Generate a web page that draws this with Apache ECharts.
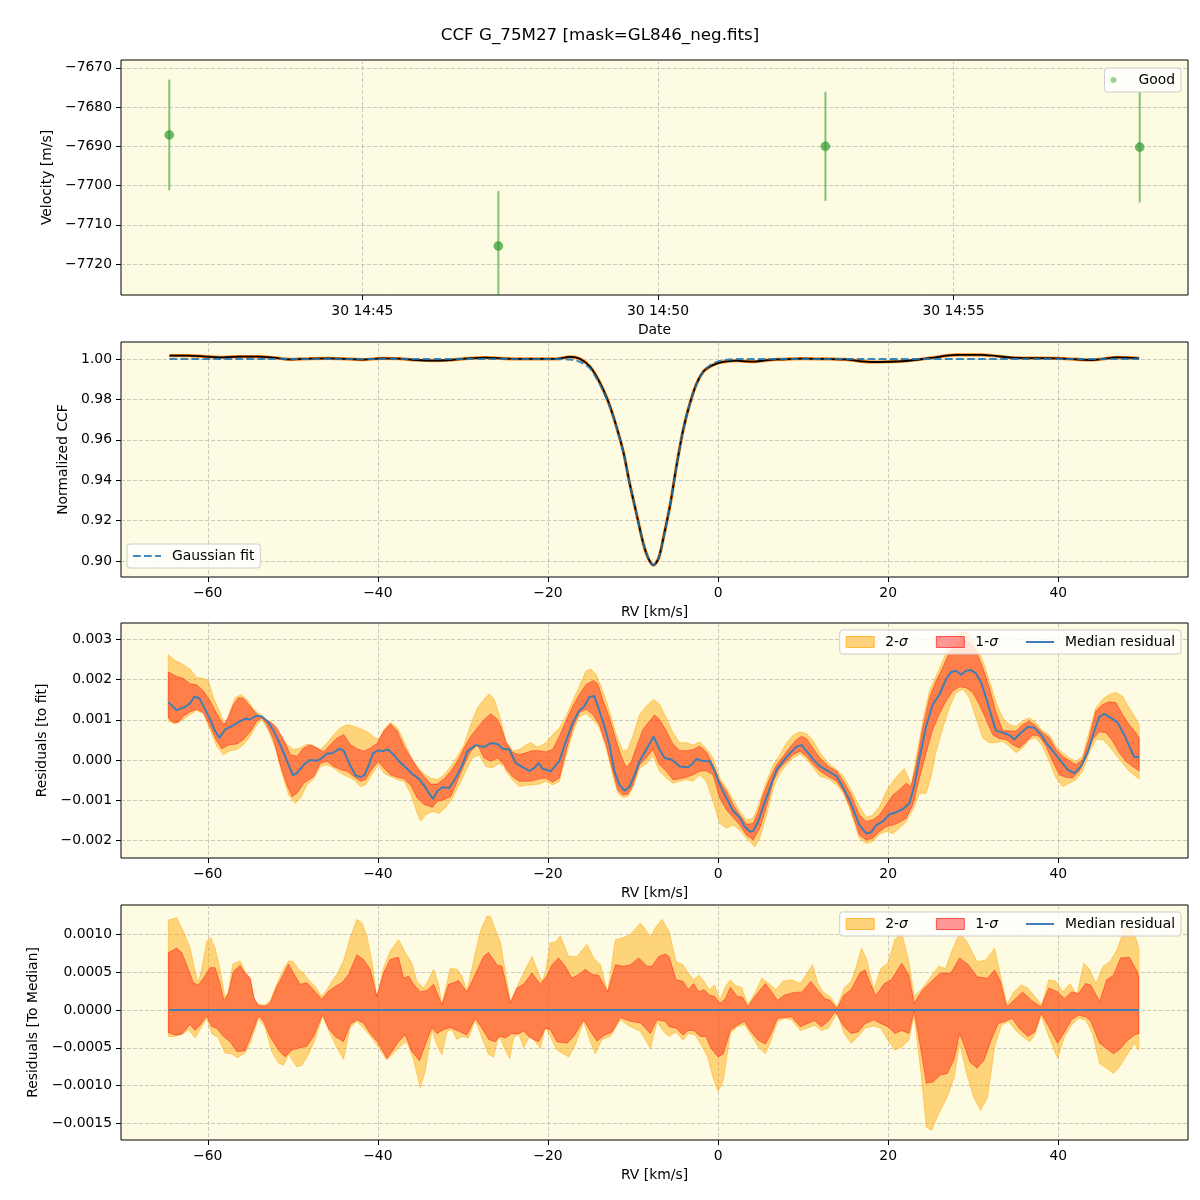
<!DOCTYPE html>
<html>
<head>
<meta charset="utf-8">
<script src="https://cdn.jsdelivr.net/npm/echarts@6.0.0/dist/echarts.min.js"></script>
<style>
  html, body { margin: 0; padding: 0; background: #fff; }
  #main { width: 1200px; height: 1200px; }
</style>
</head>
<body>
<div id="main"></div>
<script>
// ---- panel 1: velocity vs time ----
const obsTimes = ['14:41:44', '14:47:18', '14:52:50', '14:58:09'];
const obsVel = [-7687.1, -7715.4, -7690.0, -7690.2];
const obsErr = [14.1, 14.0, 13.9, 14.1];
const dateTicks = ['14:45:00', '14:50:00', '14:55:00'];
const velTicks = [-7720, -7710, -7700, -7690, -7680, -7670];

// ---- panel 2: CCF (rv km/s, normalized flux) ----
const ccf = [[-64.5,1.0017],[-62.3,1.0017],[-60.2,1.0012],[-58.1,1.0008],[-56.1,1.0012],[-54.0,1.0012],[-52.0,1.0005],[-50.3,0.9998],[-47.9,1.0002],[-45.8,1.0003],[-43.7,1.0],[-41.7,0.9997],[-39.6,1.0003],[-37.6,1.0002],[-35.5,0.9995],[-33.5,0.9992],[-31.4,0.9995],[-29.3,1.0003],[-27.3,1.0007],[-25.2,1.0002],[-23.2,1.0],[-21.1,1.0],[-19.1,1.0],[-17.4,1.001],[-16.2,1.0],[-15.1,0.9964],[-14.3,0.9914],[-13.5,0.9848],[-12.7,0.9765],[-11.9,0.9658],[-11.1,0.9534],[-10.4,0.9385],[-9.6,0.9236],[-8.8,0.9088],[-8.2,0.9013],[-7.6,0.898],[-7.0,0.9013],[-6.4,0.9121],[-5.6,0.9286],[-4.9,0.9468],[-4.1,0.965],[-3.3,0.9782],[-2.5,0.9881],[-1.7,0.9939],[-0.9,0.9964],[0.0,0.998],[1.0,0.9988],[2.2,0.9992],[3.4,0.9988],[4.2,0.9987],[5.3,0.9992],[6.5,0.9997],[7.3,0.9998],[10,1.0002],[13,1.0],[15,0.9998],[18,0.9985],[22,0.999],[25,1.0005],[28,1.002],[31,1.002],[35,1.0005],[40,1.0003],[44,0.9995],[47,1.0008],[49.5,1.0003]];
const gaussFit = [[-64.5,1.0],[-20,1.0],[-17.4,0.9997],[-16.2,0.9985],[-15.1,0.9955],[-14.3,0.9905],[-13.5,0.984],[-12.7,0.976],[-11.9,0.9655],[-11.1,0.953],[-10.4,0.9385],[-9.6,0.9236],[-8.8,0.9088],[-8.2,0.9013],[-7.6,0.898],[-7.0,0.9013],[-6.4,0.9121],[-5.6,0.9286],[-4.9,0.9468],[-4.1,0.965],[-3.3,0.9782],[-2.5,0.9878],[-1.7,0.9938],[-0.9,0.997],[0.0,0.9988],[1.0,0.9996],[2.2,1.0],[49.5,1.0]];
const ccfTicks = [0.90, 0.92, 0.94, 0.96, 0.98, 1.00];
const rvTicks = [-60, -40, -20, 0, 20, 40];

// ---- panel 3: residuals to fit (values in 1e-3) ----
const fitMed = [[-64.64,1.44],[-63.65,1.24],[-62.67,1.32],[-62.08,1.41],[-61.57,1.58],[-60.98,1.53],[-60.31,1.26],[-59.72,1.01],[-59.14,0.72],[-58.62,0.55],[-57.96,0.76],[-57.17,0.84],[-56.39,0.94],[-55.6,1.03],[-55.01,1.01],[-54.3,1.10],[-53.63,1.08],[-52.85,0.93],[-52.26,0.73],[-51.67,0.47],[-51.08,0.18],[-50.57,-0.08],[-49.98,-0.38],[-49.51,-0.33],[-48.72,-0.12],[-48.02,0.0],[-47.15,-0.02],[-46.56,0.05],[-45.97,0.16],[-45.38,0.17],[-44.48,0.28],[-44.01,0.23],[-43.3,-0.12],[-42.63,-0.38],[-42.04,-0.43],[-41.57,-0.37],[-41.06,-0.12],[-40.55,0.17],[-39.96,0.24],[-39.41,0.22],[-38.82,0.26],[-38.31,0.17],[-37.52,-0.03],[-36.74,-0.18],[-35.95,-0.35],[-35.17,-0.47],[-34.58,-0.63],[-33.99,-0.83],[-33.52,-0.97],[-33.01,-0.78],[-32.42,-0.68],[-31.63,-0.70],[-30.84,-0.45],[-30.06,-0.12],[-29.47,0.22],[-28.49,0.37],[-27.5,0.32],[-26.72,0.42],[-25.93,0.40],[-25.34,0.28],[-24.56,0.26],[-23.77,-0.08],[-22.99,-0.18],[-22.2,-0.27],[-21.61,-0.20],[-21.1,-0.08],[-20.63,-0.22],[-19.65,-0.28],[-18.66,-0.02],[-17.88,0.47],[-17.09,0.93],[-16.31,1.23],[-15.72,1.34],[-15.13,1.57],[-14.54,1.59],[-13.95,1.22],[-13.36,0.84],[-12.77,0.38],[-12.18,-0.28],[-11.59,-0.62],[-11.0,-0.77],[-10.41,-0.66],[-9.82,-0.37],[-9.23,-0.03],[-8.45,0.26],[-7.58,0.58],[-6.88,0.26],[-6.29,0.05],[-5.5,0.01],[-4.91,-0.08],[-4.52,-0.16],[-3.54,-0.18],[-3.03,-0.10],[-2.55,0.03],[-1.96,-0.02],[-0.98,-0.03],[-0.39,-0.28],[0.2,-0.62],[0.98,-0.95],[1.77,-1.27],[2.55,-1.43],[3.14,-1.66],[3.73,-1.78],[4.13,-1.77],[4.72,-1.53],[5.3,-1.16],[6.09,-0.70],[6.88,-0.24],[7.66,-0.03],[8.45,0.17],[9.23,0.33],[9.82,0.37],[10.41,0.22],[11.2,0.01],[11.98,-0.16],[12.97,-0.28],[13.95,-0.41],[14.73,-0.70],[15.52,-1.03],[16.62,-1.62],[17.42,-1.83],[18.0,-1.80],[18.59,-1.62],[19.37,-1.53],[20.16,-1.35],[20.94,-1.30],[21.72,-1.22],[22.5,-1.08],[23.09,-0.62],[23.68,0.05],[24.46,0.84],[25.24,1.38],[26.03,1.63],[26.81,2.01],[27.4,2.19],[27.98,2.22],[28.57,2.12],[29.16,2.22],[29.75,2.24],[30.33,2.15],[30.92,1.93],[31.51,1.55],[32.09,1.13],[32.68,0.73],[33.46,0.68],[34.25,0.62],[34.83,0.51],[35.62,0.68],[36.4,0.82],[37.18,0.80],[37.96,0.63],[38.75,0.38],[39.53,0.18],[40.31,-0.03],[41.1,-0.24],[41.88,-0.33],[42.66,-0.16],[43.44,0.18],[44.23,0.72],[44.81,1.07],[45.4,1.15],[46.18,1.05],[46.97,0.93],[47.75,0.63],[48.53,0.26],[48.92,0.08],[49.51,0.07]];
const fit1Hi = [[-64.64,2.19],[-63.65,2.08],[-62.87,2.03],[-62.08,1.90],[-61.3,1.87],[-60.51,1.72],[-59.72,1.47],[-58.94,1.15],[-58.15,0.88],[-57.56,1.07],[-56.97,1.38],[-56.39,1.55],[-55.8,1.53],[-55.01,1.34],[-54.22,1.13],[-53.44,1.03],[-52.65,0.95],[-51.87,0.80],[-51.08,0.51],[-50.29,0.13],[-49.51,0.09],[-48.72,0.30],[-47.94,0.38],[-47.15,0.30],[-46.37,0.20],[-45.58,0.38],[-44.79,0.55],[-44.01,0.63],[-43.22,0.38],[-42.44,0.28],[-41.65,0.22],[-40.86,0.30],[-40.08,0.41],[-39.29,0.72],[-38.51,0.90],[-37.72,0.72],[-36.94,0.34],[-36.15,0.07],[-35.36,-0.20],[-34.58,-0.41],[-33.79,-0.60],[-33.01,-0.60],[-32.22,-0.47],[-31.43,-0.28],[-30.65,-0.03],[-29.86,0.30],[-29.08,0.59],[-28.29,0.80],[-27.5,1.01],[-26.72,1.15],[-25.93,1.01],[-25.5,0.80],[-24.95,0.45],[-24.17,0.19],[-23.38,0.13],[-22.59,0.18],[-21.81,0.23],[-21.02,0.23],[-20.24,0.20],[-19.45,0.26],[-18.66,0.59],[-17.88,0.97],[-17.09,1.34],[-16.31,1.63],[-15.52,1.88],[-14.66,1.98],[-14.15,1.90],[-13.56,1.51],[-12.77,1.05],[-11.98,0.47],[-11.39,0.09],[-10.81,-0.18],[-10.22,-0.05],[-9.63,0.30],[-8.84,0.76],[-8.05,0.97],[-7.47,1.12],[-6.88,1.01],[-6.09,0.72],[-5.3,0.40],[-4.52,0.23],[-3.73,0.23],[-2.95,0.26],[-2.16,0.34],[-1.38,0.20],[-0.59,-0.12],[0.2,-0.53],[0.98,-0.78],[1.77,-1.12],[2.55,-1.37],[3.34,-1.60],[4.13,-1.58],[4.72,-1.28],[5.3,-0.87],[6.09,-0.45],[6.88,-0.12],[7.66,0.09],[8.45,0.32],[9.23,0.51],[9.82,0.59],[10.41,0.53],[11.2,0.28],[11.98,0.05],[12.97,-0.16],[13.95,-0.28],[14.73,-0.53],[15.52,-0.82],[16.62,-1.37],[17.42,-1.53],[18.2,-1.49],[18.98,-1.37],[19.77,-1.12],[20.55,-0.87],[21.33,-0.74],[22.11,-0.58],[22.7,-0.66],[23.29,-0.12],[24.07,0.80],[24.85,1.55],[25.64,1.97],[26.42,2.30],[27.2,2.68],[27.98,2.88],[28.77,3.01],[29.55,2.93],[30.33,2.72],[31.12,2.30],[31.9,1.80],[32.68,1.18],[33.46,0.73],[34.25,0.72],[35.03,0.72],[35.81,0.88],[36.59,0.97],[37.38,0.84],[38.16,0.68],[38.94,0.55],[39.73,0.26],[40.51,0.09],[41.29,-0.02],[42.07,-0.12],[42.86,0.01],[43.64,0.55],[44.42,1.22],[45.21,1.38],[45.99,1.45],[46.77,1.43],[47.55,1.13],[48.34,0.88],[49.12,0.68],[49.51,0.55]];
const fit1Lo = [[-64.64,1.05],[-64.05,0.93],[-63.46,0.94],[-62.87,1.09],[-62.08,1.20],[-61.3,1.26],[-60.51,1.18],[-59.72,0.84],[-58.94,0.47],[-58.35,0.28],[-57.56,0.37],[-56.58,0.40],[-55.8,0.51],[-55.01,0.70],[-54.22,0.97],[-53.63,1.05],[-53.05,0.88],[-52.26,0.51],[-51.47,-0.12],[-50.69,-0.62],[-50.1,-0.91],[-49.51,-0.83],[-48.72,-0.58],[-47.54,-0.41],[-46.76,-0.08],[-45.97,-0.03],[-45.19,-0.16],[-44.4,-0.24],[-43.61,-0.28],[-42.83,-0.41],[-42.04,-0.53],[-41.45,-0.49],[-40.86,-0.28],[-39.96,-0.03],[-39.29,-0.20],[-38.51,-0.37],[-37.72,-0.43],[-36.94,-0.47],[-36.15,-0.62],[-35.36,-0.95],[-34.58,-1.10],[-33.6,-1.18],[-33.01,-1.03],[-32.22,-0.99],[-31.43,-0.91],[-30.65,-0.53],[-29.86,-0.12],[-29.08,0.22],[-28.29,0.38],[-27.5,0.05],[-26.72,-0.03],[-25.93,0.05],[-25.15,-0.12],[-24.95,-0.20],[-24.17,-0.41],[-23.38,-0.53],[-22.59,-0.53],[-21.81,-0.52],[-21.02,-0.47],[-20.24,-0.45],[-19.45,-0.55],[-18.66,-0.45],[-17.88,0.22],[-17.09,0.80],[-16.31,1.18],[-15.52,1.26],[-14.73,1.13],[-13.95,0.88],[-13.16,0.38],[-12.38,-0.28],[-11.79,-0.74],[-11.2,-0.87],[-10.61,-0.85],[-10.02,-0.62],[-9.23,-0.12],[-8.45,0.05],[-7.66,0.26],[-6.88,-0.12],[-6.09,-0.28],[-5.3,-0.49],[-4.52,-0.47],[-3.73,-0.43],[-2.95,-0.37],[-2.16,-0.28],[-1.38,-0.27],[-0.59,-0.37],[0.2,-0.95],[0.98,-1.24],[1.77,-1.43],[2.55,-1.62],[3.34,-1.87],[4.13,-1.99],[4.91,-1.70],[5.7,-1.16],[6.48,-0.53],[7.27,-0.20],[8.05,-0.03],[8.84,0.13],[9.63,0.22],[10.41,0.09],[11.2,-0.12],[11.98,-0.28],[12.97,-0.41],[13.95,-0.53],[14.73,-0.78],[15.52,-1.16],[16.62,-1.87],[17.42,-1.99],[18.2,-1.95],[18.98,-1.78],[19.77,-1.66],[20.55,-1.62],[21.33,-1.55],[22.11,-1.45],[22.9,-1.12],[23.68,-0.45],[24.46,0.18],[25.24,0.76],[26.03,1.15],[26.81,1.47],[27.59,1.72],[28.38,1.82],[29.16,1.80],[29.94,1.68],[30.72,1.38],[31.51,1.01],[32.29,0.63],[33.07,0.53],[33.86,0.51],[34.64,0.38],[35.42,0.30],[36.2,0.45],[36.99,0.62],[37.77,0.59],[38.55,0.34],[39.33,-0.03],[40.12,-0.37],[40.9,-0.43],[41.68,-0.45],[42.47,-0.28],[43.25,0.05],[44.03,0.51],[44.81,0.70],[45.6,0.68],[46.38,0.47],[47.16,0.18],[47.95,-0.03],[48.73,-0.16],[49.51,-0.27]];
const fit2Hi = [[-64.64,2.62],[-63.85,2.48],[-62.87,2.37],[-62.08,2.26],[-61.3,2.05],[-60.51,2.03],[-59.92,1.97],[-59.33,1.55],[-58.55,1.18],[-57.96,0.84],[-57.37,1.22],[-56.78,1.55],[-56.11,1.63],[-55.4,1.51],[-54.62,1.26],[-53.83,1.13],[-53.05,1.01],[-52.26,0.88],[-51.47,0.59],[-50.69,0.38],[-49.9,0.26],[-49.12,0.30],[-48.33,0.40],[-47.54,0.34],[-46.76,0.26],[-45.97,0.42],[-45.19,0.63],[-44.4,0.80],[-43.61,0.88],[-42.83,0.84],[-42.04,0.78],[-41.06,0.68],[-40.47,0.57],[-39.88,0.51],[-39.29,0.76],[-38.51,0.93],[-37.72,0.80],[-36.94,0.47],[-36.15,0.09],[-35.36,-0.16],[-34.58,-0.35],[-33.79,-0.45],[-33.01,-0.49],[-32.22,-0.37],[-31.43,-0.16],[-30.65,0.09],[-29.86,0.38],[-29.08,0.88],[-28.29,1.30],[-27.5,1.51],[-26.92,1.65],[-26.33,1.51],[-25.74,1.13],[-24.95,0.47],[-24.17,0.23],[-23.38,0.26],[-22.59,0.37],[-22.0,0.43],[-21.22,0.32],[-20.24,0.43],[-19.45,0.63],[-18.66,0.80],[-17.88,1.09],[-17.09,1.47],[-16.31,1.84],[-15.52,2.22],[-14.93,2.26],[-14.34,2.13],[-13.56,1.72],[-12.77,1.22],[-11.98,0.63],[-11.2,0.22],[-10.61,0.26],[-10.02,0.59],[-9.23,1.13],[-8.45,1.34],[-7.58,1.51],[-6.88,1.38],[-6.09,1.05],[-5.3,0.68],[-4.52,0.43],[-3.73,0.43],[-2.95,0.37],[-2.16,0.45],[-1.38,0.28],[-0.59,0.05],[0.2,-0.45],[0.98,-0.70],[1.77,-0.99],[2.55,-1.28],[3.34,-1.49],[4.13,-1.45],[4.91,-1.03],[5.7,-0.53],[6.48,-0.12],[7.27,0.13],[8.05,0.43],[8.84,0.62],[9.63,0.70],[10.41,0.65],[11.2,0.48],[11.98,0.18],[12.97,-0.08],[13.95,-0.24],[14.73,-0.41],[15.52,-0.70],[16.62,-1.15],[17.42,-1.43],[18.2,-1.37],[18.98,-1.16],[19.77,-0.78],[20.55,-0.53],[21.33,-0.33],[21.92,-0.22],[22.7,-0.62],[23.29,0.05],[24.07,0.97],[24.85,1.72],[25.64,2.09],[26.42,2.47],[27.2,2.88],[27.98,3.13],[28.77,3.20],[29.55,3.13],[30.33,2.88],[31.12,2.47],[31.9,1.97],[32.68,1.43],[33.46,1.05],[34.25,0.88],[35.03,0.84],[35.81,0.97],[36.59,1.05],[37.38,0.93],[38.16,0.72],[38.94,0.63],[39.73,0.34],[40.51,0.18],[41.29,0.05],[42.07,-0.03],[42.86,0.09],[43.64,0.72],[44.42,1.30],[45.21,1.51],[45.99,1.63],[46.77,1.68],[47.55,1.59],[48.34,1.30],[49.12,1.03],[49.51,0.88]];
const fit2Lo = [[-64.64,0.97],[-63.85,0.90],[-62.87,1.01],[-62.08,1.13],[-61.3,1.23],[-60.51,1.15],[-59.72,0.76],[-58.94,0.34],[-58.15,0.13],[-57.37,0.23],[-56.58,0.26],[-55.8,0.38],[-55.01,0.59],[-54.22,0.88],[-53.63,1.01],[-52.85,0.72],[-52.06,0.30],[-51.28,-0.33],[-50.49,-0.87],[-49.71,-1.08],[-49.12,-0.95],[-48.33,-0.62],[-47.54,-0.47],[-46.76,-0.16],[-45.97,-0.12],[-45.19,-0.20],[-44.4,-0.33],[-43.61,-0.41],[-42.83,-0.49],[-42.04,-0.66],[-41.45,-0.62],[-40.86,-0.41],[-39.96,-0.12],[-39.29,-0.33],[-38.51,-0.41],[-37.72,-0.49],[-36.94,-0.53],[-36.15,-0.83],[-35.36,-1.33],[-34.97,-1.52],[-34.38,-1.37],[-33.6,-1.28],[-32.81,-1.33],[-32.02,-1.18],[-31.24,-0.95],[-30.45,-0.62],[-29.67,-0.28],[-28.88,0.05],[-28.09,0.13],[-27.3,-0.16],[-26.52,-0.20],[-25.75,-0.08],[-25.15,-0.16],[-24.95,-0.28],[-24.17,-0.49],[-23.38,-0.66],[-22.59,-0.63],[-21.81,-0.62],[-21.02,-0.60],[-20.24,-0.53],[-19.45,-0.62],[-18.66,-0.53],[-17.88,0.09],[-17.09,0.68],[-16.31,1.09],[-15.52,1.15],[-14.73,1.01],[-13.95,0.80],[-13.16,0.30],[-12.38,-0.37],[-11.79,-0.83],[-11.2,-0.93],[-10.61,-0.91],[-10.02,-0.70],[-9.23,-0.20],[-8.45,-0.10],[-7.66,0.09],[-6.88,-0.28],[-6.09,-0.45],[-5.3,-0.58],[-4.52,-0.53],[-3.73,-0.49],[-2.95,-0.53],[-2.16,-0.37],[-1.38,-0.53],[-0.59,-1.03],[0.2,-1.58],[0.98,-1.70],[1.77,-1.62],[2.55,-1.74],[3.34,-1.95],[4.32,-2.16],[4.91,-1.95],[5.7,-1.37],[6.48,-0.70],[7.27,-0.33],[8.05,-0.12],[8.84,0.05],[9.63,0.15],[10.41,0.01],[11.2,-0.20],[11.98,-0.41],[12.97,-0.47],[13.95,-0.62],[14.73,-0.83],[15.52,-1.24],[16.62,-1.95],[17.42,-2.08],[18.2,-2.03],[18.98,-1.85],[19.77,-1.78],[20.55,-1.83],[21.33,-1.70],[22.11,-1.53],[22.9,-1.24],[23.68,-0.83],[24.46,-0.83],[25.05,-0.41],[25.64,0.22],[26.42,0.80],[27.2,1.30],[27.98,1.68],[28.77,1.76],[29.55,1.55],[30.33,1.05],[31.12,0.55],[31.9,0.43],[32.68,0.43],[33.46,0.47],[34.25,0.34],[35.03,0.18],[35.81,0.30],[36.59,0.51],[37.38,0.55],[38.16,0.34],[38.94,-0.03],[39.73,-0.45],[40.51,-0.66],[41.29,-0.58],[42.07,-0.49],[42.86,-0.28],[43.64,0.18],[44.42,0.51],[45.21,0.51],[45.99,0.34],[46.77,0.13],[47.55,-0.08],[48.34,-0.28],[49.12,-0.41],[49.51,-0.47]];
const fitTicks = [-0.002, -0.001, 0, 0.001, 0.002, 0.003];

// ---- panel 4: residuals to median (values in 1e-4) ----
const medLine = [[-64.6,0],[49.5,0]];
const med1Hi = [[-64.63,7.6],[-63.65,8.2],[-63.06,7.6],[-62.27,5.4],[-61.69,3.6],[-61.1,3.3],[-60.51,4.2],[-59.73,5.6],[-59.14,5.6],[-58.63,3.8],[-58.08,1.2],[-57.57,2.3],[-56.98,5.1],[-56.2,5.9],[-55.61,4.9],[-55.02,4.2],[-54.55,1.6],[-54.04,0.6],[-53.25,0.5],[-52.67,0.9],[-51.88,3.1],[-51.1,4.7],[-50.51,6.1],[-49.92,4.9],[-49.14,3.4],[-48.35,3.6],[-47.57,2.7],[-46.59,1.4],[-45.8,2.5],[-45.02,3.1],[-44.24,3.6],[-43.45,4.7],[-42.47,7.3],[-41.69,6.7],[-40.9,5.4],[-40.12,1.8],[-39.33,4.9],[-38.55,6.7],[-37.57,7.0],[-36.98,4.2],[-36.39,4.5],[-35.8,3.4],[-35.02,2.4],[-34.24,2.6],[-33.45,3.4],[-32.47,0.7],[-31.69,3.4],[-31.1,3.6],[-30.51,3.9],[-29.53,2.4],[-28.55,4.7],[-27.57,7.1],[-26.98,7.6],[-26.0,6.0],[-25.41,5.8],[-24.43,0.9],[-23.65,2.9],[-22.86,3.4],[-21.88,4.9],[-20.9,3.4],[-20.12,4.5],[-19.53,6.0],[-18.75,6.9],[-17.96,5.8],[-17.18,4.2],[-16.39,4.7],[-15.61,5.4],[-14.82,4.7],[-14.04,4.6],[-12.98,2.4],[-12.08,6.0],[-11.1,5.8],[-10.31,6.0],[-9.33,6.9],[-8.35,5.8],[-7.76,5.8],[-6.98,7.1],[-6.2,7.4],[-5.76,7.1],[-4.94,4.0],[-4.12,3.8],[-3.5,2.7],[-2.88,3.5],[-2.26,2.4],[-1.65,2.7],[-1.03,2.0],[-0.41,1.8],[0.21,0.9],[0.82,1.4],[1.44,3.0],[2.26,1.8],[2.88,1.7],[3.5,0.4],[4.32,1.8],[5.56,3.5],[6.17,2.6],[6.99,1.3],[7.82,2.0],[8.85,2.3],[9.88,2.4],[10.91,3.8],[11.73,2.6],[12.55,1.5],[13.17,1.3],[13.99,0.2],[14.81,2.0],[15.64,2.7],[16.67,4.9],[17.28,5.3],[17.9,3.5],[18.52,1.9],[19.55,3.5],[20.37,4.0],[21.6,6.2],[22.43,4.6],[23.05,0.9],[24.07,2.7],[25.1,3.8],[26.13,4.9],[27.37,4.9],[28.4,6.9],[29.42,6.0],[30.45,4.4],[31.69,4.2],[32.51,5.3],[33.13,4.0],[33.95,0.4],[34.98,1.5],[35.8,2.4],[36.83,1.3],[37.98,0.4],[38.89,2.9],[39.92,2.4],[40.74,1.5],[41.56,2.4],[42.39,2.2],[43.21,3.5],[43.83,3.3],[44.86,1.1],[45.68,4.0],[46.5,4.6],[47.33,6.9],[48.35,7.0],[49.18,5.3],[49.47,4.4]];
const med1Lo = [[-64.63,-3.0],[-63.84,-3.3],[-63.06,-3.2],[-62.08,-1.9],[-61.49,-2.7],[-60.9,-2.0],[-60.12,-0.8],[-59.53,-2.2],[-58.94,-2.4],[-58.16,-3.5],[-57.37,-4.2],[-56.59,-5.5],[-55.61,-5.4],[-55.02,-3.7],[-54.04,-0.8],[-53.45,-1.5],[-52.67,-3.5],[-51.69,-5.3],[-50.9,-6.2],[-50.12,-5.3],[-49.14,-5.0],[-48.35,-4.8],[-47.57,-3.5],[-46.51,-0.6],[-45.8,-2.4],[-45.02,-3.5],[-44.04,-4.2],[-43.25,-1.9],[-42.47,-1.3],[-41.69,-1.7],[-40.9,-3.1],[-39.92,-4.4],[-38.94,-6.4],[-38.35,-5.5],[-37.57,-4.2],[-36.78,-3.3],[-36.0,-5.5],[-35.1,-6.7],[-34.43,-4.6],[-33.65,-2.3],[-33.06,-3.1],[-32.27,-2.6],[-31.49,-2.3],[-30.51,-2.8],[-29.53,-3.3],[-28.55,-1.1],[-27.76,-2.4],[-26.98,-3.9],[-26.2,-4.2],[-25.61,-3.5],[-25.02,-3.7],[-24.24,-3.1],[-23.65,-3.2],[-22.86,-2.8],[-22.08,-3.7],[-21.1,-4.2],[-20.31,-2.4],[-19.73,-2.6],[-18.94,-4.2],[-17.76,-4.4],[-16.98,-3.5],[-15.8,-1.3],[-15.02,-2.8],[-14.24,-4.1],[-13.45,-3.4],[-12.47,-2.9],[-11.49,-1.0],[-10.31,-1.5],[-9.14,-1.7],[-7.96,-3.1],[-7.18,-1.3],[-6.2,-1.5],[-5.76,-2.2],[-4.94,-2.4],[-4.12,-3.3],[-3.5,-2.7],[-2.88,-2.7],[-2.06,-3.5],[-1.44,-3.5],[-0.82,-5.1],[0.0,-6.2],[0.62,-5.8],[1.44,-2.7],[2.26,-2.0],[3.09,-1.5],[3.91,-2.9],[4.73,-4.0],[5.56,-4.5],[6.17,-3.3],[6.99,-1.1],[7.82,-1.0],[8.64,-0.9],[9.67,-2.2],[10.49,-1.8],[11.32,-1.4],[12.14,-2.2],[12.96,-1.5],[13.79,-0.2],[14.81,-2.2],[15.64,-3.1],[16.46,-2.9],[17.28,-1.8],[18.31,-1.3],[19.14,-1.8],[19.96,-2.2],[20.78,-3.1],[21.6,-2.7],[22.43,-3.1],[23.05,-0.1],[23.66,-4.0],[24.49,-9.7],[25.31,-9.5],[26.13,-8.6],[26.95,-8.4],[27.78,-6.4],[28.4,-3.1],[29.01,-4.9],[29.63,-6.9],[30.45,-7.7],[31.28,-6.6],[32.1,-4.0],[32.92,-1.8],[33.74,-1.5],[34.57,-1.1],[35.39,-2.4],[36.42,-3.5],[37.24,-2.9],[37.98,-0.4],[38.89,-2.2],[39.92,-4.4],[40.74,-2.9],[41.56,-1.3],[42.39,-0.7],[43.21,-0.9],[43.83,-1.5],[44.86,-4.4],[45.68,-5.1],[46.5,-5.8],[47.33,-5.1],[48.15,-4.0],[48.97,-3.3],[49.47,-3.1]];
const med2Hi = [[-64.63,11.9],[-63.65,12.2],[-62.86,10.4],[-62.08,8.2],[-61.49,5.1],[-61.1,3.6],[-60.71,5.4],[-60.12,9.1],[-59.65,9.6],[-59.14,8.2],[-58.55,5.4],[-57.96,1.6],[-57.57,2.4],[-57.06,6.1],[-56.2,6.5],[-55.61,5.1],[-55.02,4.2],[-54.55,1.4],[-54.04,0.7],[-53.25,0.7],[-52.67,1.2],[-51.88,3.4],[-51.1,5.4],[-50.51,6.5],[-49.92,6.4],[-49.33,5.4],[-48.75,4.9],[-48.16,4.0],[-47.37,3.1],[-46.59,1.8],[-46.0,2.7],[-45.41,3.8],[-44.82,4.7],[-44.04,6.5],[-43.25,9.6],[-42.47,12.0],[-41.88,11.5],[-41.29,9.8],[-40.71,6.5],[-40.12,1.6],[-39.33,5.6],[-38.55,7.8],[-37.57,9.3],[-36.78,7.6],[-36.0,6.2],[-35.41,3.8],[-34.63,2.9],[-34.04,4.0],[-33.45,5.4],[-32.86,3.4],[-32.47,0.7],[-31.88,3.6],[-31.49,5.5],[-30.71,5.4],[-30.12,4.5],[-29.53,2.5],[-28.75,6.5],[-27.96,10.4],[-27.18,12.4],[-26.78,12.4],[-26.2,10.7],[-25.61,9.1],[-25.02,5.1],[-24.43,1.2],[-23.84,2.5],[-23.25,4.0],[-22.47,5.8],[-21.88,7.1],[-21.29,5.4],[-20.71,3.8],[-20.31,4.9],[-19.73,8.9],[-19.14,9.0],[-18.55,9.8],[-17.57,7.1],[-16.59,7.1],[-15.41,8.7],[-14.63,6.9],[-13.84,6.0],[-12.98,2.4],[-12.08,9.3],[-11.1,9.6],[-10.31,10.0],[-9.14,11.5],[-8.55,10.7],[-7.96,9.6],[-7.37,10.9],[-6.59,12.0],[-5.76,10.4],[-4.94,6.4],[-4.12,6.0],[-3.5,4.9],[-2.88,4.0],[-2.26,4.6],[-1.65,3.8],[-1.03,2.7],[-0.41,3.3],[0.21,1.3],[0.82,3.0],[1.44,4.0],[2.06,3.2],[2.76,3.0],[3.5,0.7],[4.32,2.2],[5.14,4.2],[5.97,3.5],[6.79,2.7],[7.61,3.8],[8.64,4.0],[9.67,3.5],[10.49,4.9],[11.11,6.0],[11.73,3.5],[12.35,2.4],[13.17,1.8],[13.99,0.4],[14.81,2.9],[15.64,3.8],[16.26,5.8],[16.87,8.2],[17.49,6.6],[18.31,2.7],[19.14,5.5],[19.96,6.2],[20.78,9.3],[21.6,10.2],[22.43,6.4],[23.05,1.8],[23.87,2.7],[24.9,4.2],[25.93,5.8],[26.75,5.5],[27.37,7.5],[28.4,10.2],[29.22,9.1],[30.45,6.4],[31.48,6.6],[32.51,8.2],[33.13,4.9],[33.95,0.7],[34.77,2.4],[35.6,3.3],[36.42,2.9],[37.24,1.8],[38.07,0.7],[38.89,4.0],[39.71,3.8],[40.53,2.4],[41.36,3.5],[42.18,2.0],[43.0,6.2],[43.62,5.5],[44.44,3.5],[45.27,5.8],[46.09,6.4],[46.91,8.0],[47.74,10.6],[48.56,10.8],[49.18,9.3],[49.47,8.2]];
const med2Lo = [[-64.63,-3.5],[-63.84,-3.5],[-62.86,-3.1],[-62.27,-2.6],[-61.49,-3.7],[-60.9,-2.6],[-60.12,-1.1],[-59.53,-3.1],[-58.75,-3.7],[-57.96,-5.7],[-57.18,-5.8],[-56.51,-6.3],[-55.61,-5.7],[-55.02,-4.4],[-54.04,-1.1],[-53.25,-2.3],[-52.47,-5.5],[-51.69,-7.0],[-51.1,-7.3],[-50.51,-5.9],[-49.53,-7.5],[-48.94,-7.3],[-48.16,-5.9],[-47.37,-3.9],[-46.51,-0.8],[-45.61,-3.1],[-44.82,-5.0],[-44.04,-6.5],[-43.25,-2.3],[-42.47,-1.5],[-41.49,-2.6],[-40.71,-3.7],[-39.92,-5.0],[-38.94,-6.6],[-38.16,-5.7],[-37.18,-4.6],[-36.59,-4.2],[-35.8,-6.6],[-35.02,-10.3],[-34.43,-8.1],[-33.65,-2.6],[-33.06,-4.6],[-32.47,-5.9],[-31.88,-2.8],[-31.29,-2.6],[-30.71,-3.9],[-30.12,-3.5],[-29.33,-3.7],[-28.55,-1.3],[-27.76,-3.7],[-26.98,-5.9],[-26.39,-6.2],[-25.8,-3.3],[-25.22,-4.8],[-24.51,-6.4],[-24.04,-3.7],[-23.45,-3.1],[-22.86,-5.0],[-22.08,-3.3],[-20.9,-5.1],[-20.31,-2.2],[-19.73,-3.5],[-18.94,-5.3],[-17.57,-6.2],[-16.79,-4.6],[-15.8,-1.5],[-15.02,-4.2],[-14.43,-5.8],[-13.65,-3.9],[-12.67,-3.5],[-11.49,-1.3],[-10.31,-2.2],[-9.14,-2.8],[-7.96,-5.1],[-7.18,-1.6],[-6.2,-3.1],[-5.76,-3.5],[-4.94,-2.9],[-4.12,-4.0],[-3.5,-3.1],[-2.67,-3.3],[-1.85,-4.9],[-1.23,-6.2],[-0.62,-8.8],[0.0,-10.8],[0.62,-9.3],[1.44,-3.1],[2.26,-2.2],[3.09,-1.9],[3.91,-3.3],[4.73,-4.9],[5.56,-5.8],[6.17,-4.2],[6.99,-1.5],[7.82,-1.1],[8.64,-1.3],[9.67,-2.7],[10.49,-2.4],[11.32,-2.0],[12.14,-2.7],[12.96,-2.4],[13.99,-0.4],[14.81,-3.1],[15.64,-4.4],[16.46,-3.5],[17.28,-2.4],[18.31,-2.1],[19.14,-2.4],[19.96,-4.0],[20.78,-5.3],[21.6,-4.9],[22.43,-4.0],[23.05,-0.7],[23.87,-8.4],[24.49,-15.5],[25.1,-15.9],[25.93,-13.7],[26.95,-11.5],[27.78,-8.8],[28.4,-4.4],[29.22,-8.4],[30.04,-11.5],[30.86,-13.3],[31.69,-11.5],[32.51,-4.9],[33.33,-2.0],[34.16,-1.5],[34.98,-2.7],[35.8,-3.5],[36.63,-4.2],[37.24,-3.3],[37.98,-0.7],[38.89,-3.5],[39.92,-6.4],[40.74,-3.5],[41.56,-2.0],[42.39,-1.1],[43.21,-1.3],[44.03,-3.1],[44.86,-7.1],[45.68,-7.7],[46.5,-8.4],[47.33,-7.3],[48.15,-5.8],[48.97,-4.4],[49.47,-5.3]];
const medTicks = [-0.0015, -0.001, -0.0005, 0, 0.0005, 0.001];

const FONT = 'DejaVu Sans';
const BG = '#fdfbe1';
const ORANGE = 'rgba(255,165,0,0.45)';
const RED = 'rgba(255,0,0,0.4)';
const MEDBLUE = '#3f7fb5';

const toMs = s => { const [h, m, sec] = s.split(':').map(Number); return Date.UTC(2023, 5, 30, h, m, sec); };
const minus = s => String(s).replace('-', '\u2212');
const scale = (arr, k) => arr.map(p => [p[0], p[1] * k]);

const grids = [60, 342, 623, 905].map(top => ({
  left: 121, right: 12, top: top, height: 235, show: true,
  backgroundColor: BG, borderColor: '#000', borderWidth: 1
}));

const splitStyle = { show: true, lineStyle: { color: 'rgba(170,170,170,0.6)', type: [4, 2], width: 1 } };
const tickStyle = { show: true, length: 5, lineStyle: { color: '#000', width: 1 } };

function xAxisRV(i) {
  return {
    gridIndex: i, type: 'value', min: -70.2, max: 55.25, position: 'bottom',
    name: 'RV [km/s]', nameLocation: 'middle', nameGap: 28,
    nameTextStyle: { fontFamily: FONT, fontSize: 13.9, color: '#000' },
    axisLine: { show: false, onZero: false }, axisTick: Object.assign({ customValues: rvTicks }, tickStyle),
    axisLabel: { customValues: rvTicks, fontFamily: FONT, fontSize: 13.9, color: '#000', margin: 9, formatter: v => minus(v) },
    splitLine: splitStyle
  };
}
function yAxisOf(i, name, gap, min, max, ticks, dec) {
  return {
    gridIndex: i, type: 'value', min: min, max: max, position: 'left',
    name: name, nameLocation: 'middle', nameRotate: 90, nameGap: gap,
    nameTextStyle: { fontFamily: FONT, fontSize: 13.9, color: '#000' },
    axisLine: { show: false, onZero: false }, axisTick: Object.assign({ customValues: ticks }, tickStyle),
    axisLabel: { customValues: ticks, fontFamily: FONT, fontSize: 13.9, color: '#000', margin: 9,
      formatter: v => minus(dec === null ? Math.round(v) : v.toFixed(dec)) },
    splitLine: splitStyle
  };
}

function band(name, upper, lower, idx, fill) {
  return {
    type: 'custom', name: name, xAxisIndex: idx, yAxisIndex: idx, clip: true, silent: true,
    data: [upper[0]],
    renderItem: (params, api) => {
      const pts = upper.concat(lower.slice().reverse()).map(p => api.coord(p));
      return { type: 'polygon', shape: { points: pts }, style: { fill: fill, stroke: fill, lineWidth: 1 } };
    }
  };
}
function line(name, data, idx, color, width, extra) {
  return Object.assign({
    type: 'line', name: name, xAxisIndex: idx, yAxisIndex: idx, data: data,
    showSymbol: false, symbol: 'none', animation: false, clip: true,
    lineStyle: { color: color, width: width }, itemStyle: { color: color }
  }, extra || {});
}

// legend handles drawn as small paths, like matplotlib's line handles
const solidHandle = 'path://M0 0h28v2H0z';
const dashHandle = 'path://M0 0h7.7v2H0zM11 0h7.7v2H11zM22 0h6v2H22z';

const legendText = { fontFamily: FONT, fontSize: 13.9, color: '#000', padding: [0, 0, 0, 6],
  rich: { i: { fontFamily: FONT, fontStyle: 'italic', fontSize: 13.9 } } };
const legendBox = { backgroundColor: 'rgba(255,255,255,0.8)', borderColor: '#cccccc', borderWidth: 1,
  borderRadius: 3, padding: [5, 6, 5, 6], textStyle: legendText };
const sigmaFmt = n => n === 'Median residual' ? n : n.replace('σ', '{i|σ}');
function sigmaLegend(top) {
  return Object.assign({
    top: top, right: 19, orient: 'horizontal', itemWidth: 28, itemHeight: 11, itemGap: 28,
    formatter: sigmaFmt,
    data: [
      { name: '2-σ', icon: 'rect', itemStyle: { color: 'rgba(255,165,0,0.5)', borderColor: 'rgba(255,165,0,0.7)', borderWidth: 1 } },
      { name: '1-σ', icon: 'rect', itemStyle: { color: 'rgba(255,0,0,0.4)', borderColor: 'rgba(255,0,0,0.6)', borderWidth: 1 } },
      { name: 'Median residual', icon: solidHandle, itemStyle: { color: MEDBLUE, borderWidth: 0 } }
    ]
  }, legendBox);
}

const errData = obsTimes.map((t, i) => [toMs(t), obsVel[i] - obsErr[i], obsVel[i] + obsErr[i]]);
const ptData = obsTimes.map((t, i) => [toMs(t), obsVel[i]]);

const option = {
  animation: false,
  backgroundColor: '#fff',
  title: { text: 'CCF G_75M27 [mask=GL846_neg.fits]', left: 'center', top: 22,
    textStyle: { fontFamily: FONT, fontSize: 16.7, fontWeight: 'normal', color: '#000' } },
  grid: grids,
  xAxis: [
    {
      gridIndex: 0, type: 'value', min: toMs('14:40:55'), max: toMs('14:58:58'), position: 'bottom',
      name: 'Date', nameLocation: 'middle', nameGap: 28,
      nameTextStyle: { fontFamily: FONT, fontSize: 13.9, color: '#000' },
      axisLine: { show: false, onZero: false },
      axisTick: Object.assign({ customValues: dateTicks.map(toMs) }, tickStyle),
      axisLabel: { customValues: dateTicks.map(toMs), fontFamily: FONT, fontSize: 13.9, color: '#000', margin: 9,
        formatter: v => { const d = new Date(v);
          return d.getUTCDate() + ' ' + String(d.getUTCHours()).padStart(2, '0') + ':' + String(d.getUTCMinutes()).padStart(2, '0'); } },
      splitLine: splitStyle
    },
    xAxisRV(1), xAxisRV(2), xAxisRV(3)
  ],
  yAxis: [
    yAxisOf(0, 'Velocity [m/s]', 64, -7727.9, -7668, velTicks, null),
    yAxisOf(1, 'Normalized CCF', 48, 0.8921, 1.0084, ccfTicks, 2),
    yAxisOf(2, 'Residuals [to fit]', 68, -0.00244, 0.00341, fitTicks, 3),
    yAxisOf(3, 'Residuals [To Median]', 77, -0.00172, 0.00139, medTicks, 4)
  ],
  legend: [
    Object.assign({ top: 68, right: 19, itemWidth: 28, itemHeight: 6, icon: 'circle',
      data: [{ name: 'Good', itemStyle: { color: 'rgba(44,160,44,0.6)', borderWidth: 0 } }] }, legendBox),
    Object.assign({ top: 544, left: 127, itemWidth: 28, itemHeight: 11,
      data: [{ name: 'Gaussian fit', icon: dashHandle, itemStyle: { color: 'rgba(31,119,180,0.85)', borderWidth: 0 } }] }, legendBox),
    sigmaLegend(630),
    sigmaLegend(912)
  ],
  series: [
    {
      type: 'custom', name: 'errbar', xAxisIndex: 0, yAxisIndex: 0, clip: true, silent: true,
      data: errData, encode: { x: 0, y: [1, 2] },
      renderItem: (params, api) => {
        const a = api.coord([api.value(0), api.value(1)]);
        const b = api.coord([api.value(0), api.value(2)]);
        return { type: 'line', shape: { x1: a[0], y1: a[1], x2: b[0], y2: b[1] },
          style: { stroke: 'rgba(44,160,44,0.6)', lineWidth: 2 } };
      }
    },
    {
      type: 'scatter', name: 'Good', xAxisIndex: 0, yAxisIndex: 0, data: ptData,
      symbolSize: 9, itemStyle: { color: 'rgba(44,150,44,0.85)', borderColor: 'rgba(44,160,44,0.5)', borderWidth: 1 }
    },
    line('ccf-orange', ccf, 1, '#ff7f0e', 3.2, { smooth: 0.3 }),
    line('ccf', ccf, 1, '#000', 1.8, { smooth: 0.3 }),
    line('Gaussian fit', gaussFit, 1, 'rgba(31,119,180,0.85)', 2,
      { smooth: 0.3, lineStyle: { color: 'rgba(31,119,180,0.85)', width: 2, type: [7.7, 3.3] } }),

    band('2-σ', scale(fit2Hi, 1e-3), scale(fit2Lo, 1e-3), 2, ORANGE),
    band('1-σ', scale(fit1Hi, 1e-3), scale(fit1Lo, 1e-3), 2, RED),
    line('Median residual', scale(fitMed, 1e-3), 2, MEDBLUE, 2),

    band('2-σ', scale(med2Hi, 1e-4), scale(med2Lo, 1e-4), 3, ORANGE),
    band('1-σ', scale(med1Hi, 1e-4), scale(med1Lo, 1e-4), 3, RED),
    line('Median residual', medLine, 3, MEDBLUE, 2)
  ]
};

const chart = echarts.init(document.getElementById('main'), null, { renderer: 'canvas' });
chart.setOption(option);
</script>
</body>
</html>
